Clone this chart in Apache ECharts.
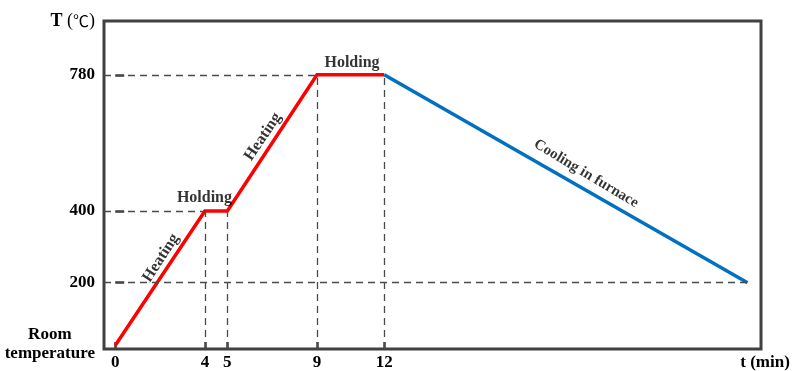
<!DOCTYPE html>
<html>
<head>
<meta charset="utf-8">
<script src="https://cdn.jsdelivr.net/npm/echarts@6/dist/echarts.min.js"></script>
<style>html,body{margin:0;padding:0;background:#fff}#c{width:793px;height:371px}</style>
</head>
<body>
<div id="c"></div>
<script>
// ---- data ----
const heatTime = [0, 4, 5, 9, 12];
const heatTemp = [25, 400, 400, 780, 780];
const coolTime = [12, 28.2];
const coolTemp = [780, 200];
const xTickValues = [0, 4, 5, 9, 12];
const yTickValues = [200, 400, 780];
const yLabelValues = [25, 200, 400, 780];
const roomTempLabel = ['Room', 'temperature'];
const yAxisTitle = ['T ', '(', '℃', ')'];
const xAxisTitle = 't (min)';
const guideHTemp = [780, 400, 200];
const guideHEndTime = [9, 4, 28.2];
const guideVTime = [4, 5, 9, 12];
const guideVTemp = [400, 400, 780, 780];
const noteText = ['Heating', 'Holding', 'Heating', 'Holding', 'Cooling in furnace'];
const noteTime = [2.04, 3.98, 6.59, 10.56, 21.0];
const noteTemp = [269, 436, 607, 813, 504];
const noteAngle = [57, 0, 56, 0, -31];
const noteSize = [16, 16, 16, 16, 15];

const X_MIN = -0.5, X_MAX = 28.8, Y_MIN = 15, Y_MAX = 930;
const FONT = '"Liberation Serif", "Times New Roman", serif';
const AXIS_COLOR = '#404040';

const guideLines = [];
guideHTemp.forEach((v, i) => guideLines.push([{coord: [X_MIN, v]}, {coord: [guideHEndTime[i], v]}]));
guideVTime.forEach((t, i) => guideLines.push([{coord: [t, Y_MIN]}, {coord: [t, guideVTemp[i]]}]));

function yLabel(v) {
  if (v === yLabelValues[0]) return roomTempLabel.map(s => '{r|' + s + '}').join('\n');
  if (v === Y_MAX) return '{b|' + yAxisTitle[0] + '}{p|' + yAxisTitle[1] + '}{c|' + yAxisTitle[2] + '}{p|' + yAxisTitle[3] + '}';
  return String(v);
}

const chart = echarts.init(document.getElementById('c'), null, {renderer: 'canvas'});
chart.setOption({
  animation: false,
  grid: {left: 104, right: 32, top: 21, bottom: 19, show: true, borderColor: AXIS_COLOR, borderWidth: 3, backgroundColor: 'transparent'},
  xAxis: {
    type: 'value', min: X_MIN, max: X_MAX,
    splitLine: {show: false},
    axisLine: {show: false},
    axisTick: {show: true, inside: true, length: 7, customValues: xTickValues, lineStyle: {color: AXIS_COLOR, width: 2.5}},
    axisLabel: {customValues: xTickValues, margin: 5, color: '#000', fontFamily: FONT, fontWeight: 'bold', fontSize: 17},
    name: xAxisTitle, nameLocation: 'end', nameGap: 4,
    nameTextStyle: {color: '#000', fontFamily: FONT, fontWeight: 'bold', fontSize: 17, align: 'center', verticalAlign: 'top', padding: [5, 0, 0, 0]}
  },
  yAxis: {
    type: 'value', min: Y_MIN, max: Y_MAX,
    splitLine: {show: false},
    axisLine: {show: false},
    axisTick: {show: true, inside: true, length: 9, customValues: yTickValues, lineStyle: {color: AXIS_COLOR, width: 2.5}},
    axisLabel: {
      customValues: yLabelValues.concat([Y_MAX]), margin: 9, color: '#000', fontFamily: FONT, fontWeight: 'bold', fontSize: 17,
      formatter: yLabel,
      rich: {
        r: {fontFamily: FONT, fontWeight: 'bold', fontSize: 17, lineHeight: 19, align: 'center', color: '#000', padding: [0, 0, 3, 0]},
        b: {fontFamily: FONT, fontWeight: 'bold', fontSize: 18, color: '#000'},
        p: {fontFamily: FONT, fontWeight: 'normal', fontSize: 18, color: '#000'},
        c: {fontFamily: '"Noto Sans CJK SC", "DejaVu Sans", sans-serif', fontWeight: 'normal', fontSize: 16, color: '#000'}
      }
    }
  },
  series: [
    {
      name: 'guides', type: 'line', data: [], silent: true, z: 1,
      markLine: {silent: true, symbol: 'none', label: {show: false},
        lineStyle: {color: '#4a4a4a', width: 1.3, type: [7, 5]}, data: guideLines}
    },
    {
      name: 'heating', type: 'line', z: 3, symbol: 'none',
      data: heatTime.map((t, i) => [t, heatTemp[i]]),
      lineStyle: {color: '#ff0000', width: 3.5, join: 'miter'}
    },
    {
      name: 'cooling', type: 'line', z: 3, symbol: 'none',
      data: coolTime.map((t, i) => [t, coolTemp[i]]),
      lineStyle: {color: '#0070c0', width: 3.5}
    },
    {
      name: 'notes', type: 'scatter', z: 4, silent: true, symbolSize: 1,
      itemStyle: {color: 'rgba(0,0,0,0)'},
      data: noteText.map((s, i) => ({
        value: [noteTime[i], noteTemp[i]],
        label: {show: true, position: 'inside', formatter: s, rotate: noteAngle[i],
          color: '#000', fontFamily: FONT, fontWeight: 'bold', fontSize: noteSize[i]}
      }))
    }
  ]
});
</script>
</body>
</html>
